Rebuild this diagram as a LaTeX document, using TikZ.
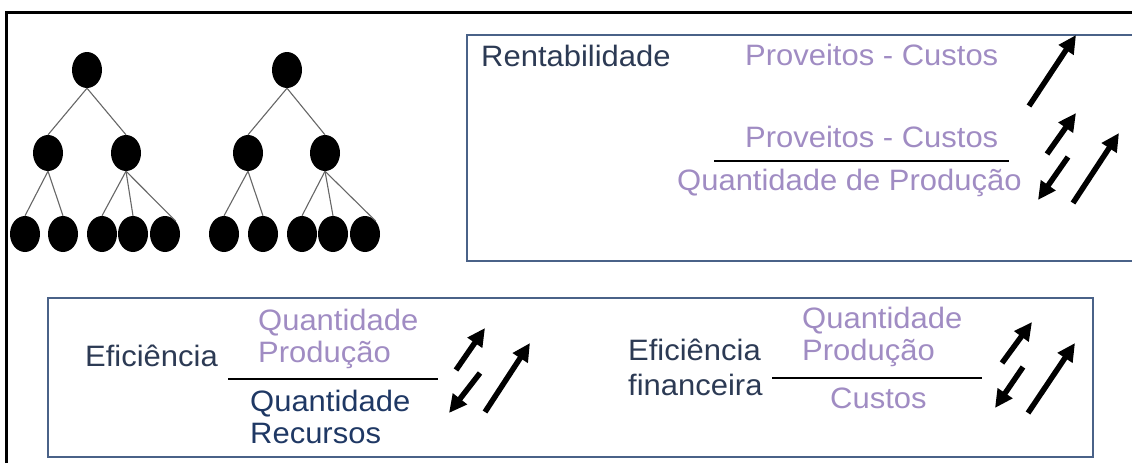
\documentclass[tikz,border=0pt]{standalone}
\usepackage{fontspec}
\setmainfont{Liberation Sans}[FakeStretch=1.05]
\usetikzlibrary{shapes.geometric,arrows.meta}
\definecolor{navy}{HTML}{2C3A54}
\definecolor{deepnavy}{HTML}{1F3864}
\definecolor{lilac}{HTML}{A08CC3}
\definecolor{boxline}{HTML}{4A6288}

\begin{document}
\begin{tikzpicture}[x=1pt,y=-1pt,
		dot/.style={ellipse,fill=black,minimum width=30pt,minimum height=36pt,inner sep=0pt},
		branch/.style={draw=black!60,line width=1.1pt},
		lbl/.style={anchor=base west,inner sep=0pt,font=\fontsize{29.5}{34}\selectfont},
		trend/.style={line width=5.5pt,-{Triangle[length=18pt,width=17pt]}}]
		\useasboundingbox (0,0) rectangle (1132,463);
		
		\draw[line width=3.5pt] (6.5,463) -- (6.5,12.5) -- (1132,12.5);
		\draw[boxline,line width=1.3pt] (1132,35) -- (467,35) -- (467,261) -- (1132,261);
		\draw[boxline,line width=1.3pt] (48,298) rectangle (1093,457);
		
		% first tree
		\node[dot] (ar) at (87,70) {};
		\node[dot] (am1) at (48,153) {};
		\node[dot] (am2) at (126,153) {};
		\node[dot] (al1) at (25,234) {};
		\node[dot] (al2) at (63,234) {};
		\node[dot] (al3) at (102,234) {};
		\node[dot] (al4) at (133,234) {};
		\node[dot] (al5) at (165,234) {};
		\draw[branch] (ar.south) -- (am1.north);
		\draw[branch] (ar.south) -- (am2.north);
		\draw[branch] (am1.south) -- (al1.north);
		\draw[branch] (am1.south) -- (al2.north);
		\draw[branch] (am2.south) -- (al3.north);
		\draw[branch] (am2.south) -- (al4.north);
		\draw[branch] (am2.south) -- (al5.north east);
		
		% second tree
		\node[dot] (br) at (287,70) {};
		\node[dot] (bm1) at (248,153) {};
		\node[dot] (bm2) at (325,153) {};
		\node[dot] (bl1) at (224,234) {};
		\node[dot] (bl2) at (263,234) {};
		\node[dot] (bl3) at (302,234) {};
		\node[dot] (bl4) at (333,234) {};
		\node[dot] (bl5) at (365,234) {};
		\draw[branch] (br.south) -- (bm1.north);
		\draw[branch] (br.south) -- (bm2.north);
		\draw[branch] (bm1.south) -- (bl1.north);
		\draw[branch] (bm1.south) -- (bl2.north);
		\draw[branch] (bm2.south) -- (bl3.north);
		\draw[branch] (bm2.south) -- (bl4.north);
		\draw[branch] (bm2.south) -- (bl5.north east);
		
		\node[lbl,navy] (rent) at (481,66) {Rentabilidade};
		\node[lbl,lilac] (pc1) at (745,65) {Proveitos - Custos};
		\node[lbl,lilac] (pc2) at (745,147) {Proveitos - Custos};
		\draw[line width=1.2pt] (714,161) -- (1009,161);
		\node[lbl,lilac] (qp) at (677,190) {Quantidade de Produção};
		
		\node[lbl,navy] (efi) at (85,366) {Eficiência};
		\node[lbl,lilac] (qa) at (258,330) {Quantidade};
		\node[lbl,lilac] (pa) at (258,362) {Produção};
		\draw[line width=1.2pt] (228,379) -- (438,379);
		\node[lbl,deepnavy] (qr) at (250,411) {Quantidade};
		\node[lbl,deepnavy] (rec) at (250,443) {Recursos};
		
		\node[lbl,navy] (efb) at (628,360) {Eficiência};
		\node[lbl,navy] (fin) at (628,395) {financeira};
		\node[lbl,lilac] (qb) at (802,328) {Quantidade};
		\node[lbl,lilac] (pb) at (802,360) {Produção};
		\draw[line width=1.2pt] (772,378) -- (982,378);
		\node[lbl,lilac] (cus) at (830,408) {Custos};
		
		\draw[trend] (1029,106) -- (1076,35);
		\draw[trend] (1047,154) -- (1076,113);
		\draw[trend] (1068,157) -- (1038,200);
		\draw[trend] (1073,203) -- (1119,133);
		
		\draw[trend] (456,370) -- (485,328);
		\draw[trend] (480,373) -- (449,413);
		\draw[trend] (485,412) -- (530,343);
		
		\draw[trend] (1002,363) -- (1032,322);
		\draw[trend] (1023,367) -- (995,408);
		\draw[trend] (1028,413) -- (1075,343);
\end{tikzpicture}
\end{document}
